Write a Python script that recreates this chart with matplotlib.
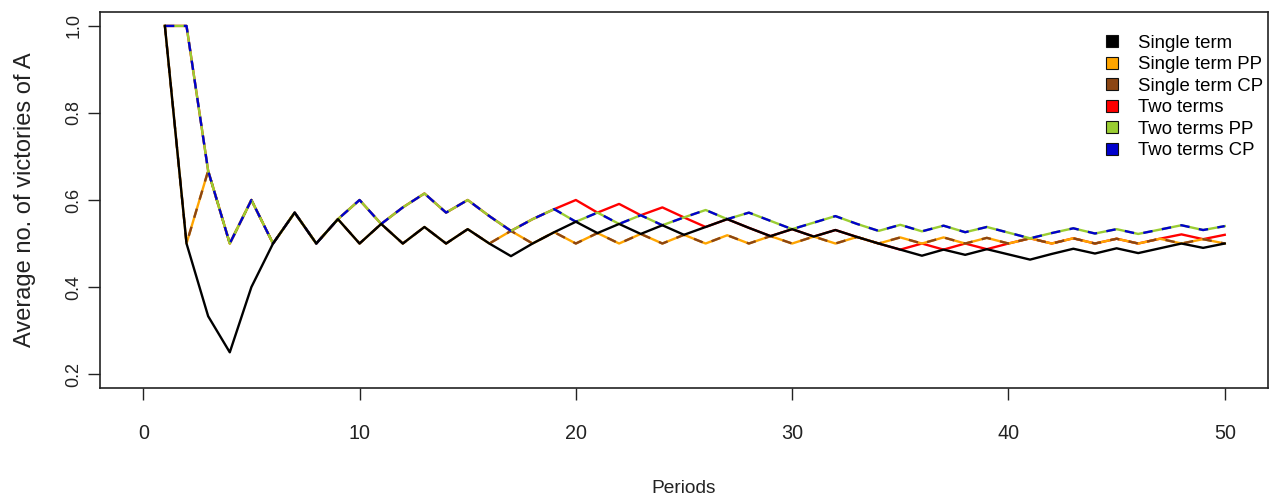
import matplotlib
matplotlib.use("Agg")
import matplotlib.pyplot as plt
from matplotlib.lines import Line2D

plt.rcParams['font.family'] = ['Liberation Sans', 'DejaVu Sans']

periods = list(range(1, 51))

single_term = [1.0, 0.5, 0.333, 0.25, 0.4, 0.5, 0.571, 0.5, 0.556, 0.5,
               0.545, 0.5, 0.538, 0.5, 0.533, 0.5, 0.471, 0.5, 0.526, 0.55,
               0.524, 0.545, 0.522, 0.542, 0.52, 0.538, 0.556, 0.536, 0.517, 0.533,
               0.516, 0.531, 0.515, 0.5, 0.486, 0.472, 0.486, 0.474, 0.487, 0.475,
               0.463, 0.476, 0.488, 0.477, 0.489, 0.478, 0.489, 0.5, 0.49, 0.5]

single_term_pp = [1.0, 0.5, 0.667, 0.5, 0.6, 0.5, 0.571, 0.5, 0.556, 0.5,
                  0.545, 0.5, 0.538, 0.5, 0.533, 0.5, 0.529, 0.5, 0.526, 0.5,
                  0.524, 0.5, 0.522, 0.5, 0.52, 0.5, 0.519, 0.5, 0.517, 0.5,
                  0.516, 0.5, 0.515, 0.5, 0.514, 0.5, 0.514, 0.5, 0.513, 0.5,
                  0.512, 0.5, 0.512, 0.5, 0.511, 0.5, 0.511, 0.5, 0.51, 0.5]
single_term_cp = list(single_term_pp)

two_terms = [1.0, 1.0, 0.667, 0.5, 0.6, 0.5, 0.571, 0.5, 0.556, 0.6,
             0.545, 0.583, 0.615, 0.571, 0.6, 0.563, 0.529, 0.556, 0.579, 0.6,
             0.571, 0.591, 0.565, 0.583, 0.56, 0.538, 0.556, 0.536, 0.517, 0.533,
             0.516, 0.531, 0.515, 0.5, 0.486, 0.5, 0.486, 0.5, 0.487, 0.5,
             0.512, 0.5, 0.512, 0.5, 0.511, 0.5, 0.511, 0.521, 0.51, 0.52]

two_terms_pp = [1.0, 1.0, 0.667, 0.5, 0.6, 0.5, 0.571, 0.5, 0.556, 0.6,
                0.545, 0.583, 0.615, 0.571, 0.6, 0.563, 0.529, 0.556, 0.579, 0.55,
                0.571, 0.545, 0.565, 0.542, 0.56, 0.577, 0.556, 0.571, 0.552, 0.533,
                0.548, 0.563, 0.545, 0.529, 0.543, 0.528, 0.541, 0.526, 0.538, 0.525,
                0.512, 0.524, 0.535, 0.523, 0.533, 0.522, 0.532, 0.542, 0.531, 0.54]
two_terms_cp = list(two_terms_pp)

legend_labels = ["Single term", "Single term PP", "Single term CP",
                 "Two terms", "Two terms PP", "Two terms CP"]
colors = ["#000000", "#FFA500", "#8B4513", "#FF0000", "#9ACD32", "#0000CD"]

x_ticks = [0, 10, 20, 30, 40, 50]
y_ticks = [0.2, 0.4, 0.6, 0.8, 1.0]

fig = plt.figure(figsize=(12.73, 4.98), dpi=100)
ax = fig.add_axes([100/1273, 1 - 388/498, 1168/1273, 376/498])

lw = 1.7
ax.plot(periods, two_terms, color=colors[3], lw=lw, zorder=2)
ax.plot(periods, single_term_pp, color=colors[1], lw=lw, zorder=3)
ax.plot(periods, single_term_cp, color=colors[2], lw=lw, zorder=4, dashes=(4, 4))
ax.plot(periods, two_terms_pp, color=colors[4], lw=lw, zorder=5)
ax.plot(periods, two_terms_cp, color=colors[5], lw=lw, zorder=6, dashes=(4, 4))
ax.plot(periods, single_term, color=colors[0], lw=lw, zorder=7)

ax.set_xlim(-2, 52)
ax.set_ylim(0.168, 1.032)
ax.tick_params(axis='both', direction='out', length=8.5, width=1, colors='#222222')
ax.tick_params(axis='x', pad=17.4, labelsize=14.2)
ax.tick_params(axis='y', pad=4, labelsize=13)
ax.set_xticks(x_ticks)
ax.set_yticks(y_ticks)
ax.set_xticklabels([str(v) for v in x_ticks])
ax.set_yticklabels([f"{v:.1f}" for v in y_ticks], rotation=90, va='center')
for s in ax.spines.values():
    s.set_linewidth(1.2)
    s.set_color('#222222')

ax.set_xlabel("Periods", fontsize=13.8, labelpad=26.5, color='#222222')
ax.set_ylabel("Average no. of victories of A", fontsize=17, labelpad=21.5, color='#222222')

handles = [Line2D([0], [0], marker='s', linestyle='none', markersize=9,
                  markerfacecolor=c, markeredgecolor='#111111', markeredgewidth=0.8)
           for c in colors]
leg = ax.legend(handles, legend_labels, loc='upper right', frameon=False,
                fontsize=13.4, handletextpad=0.4, labelspacing=0.24,
                bbox_to_anchor=(1.002, 0.959), borderaxespad=0.0)

fig.savefig("out.png", dpi=100)
